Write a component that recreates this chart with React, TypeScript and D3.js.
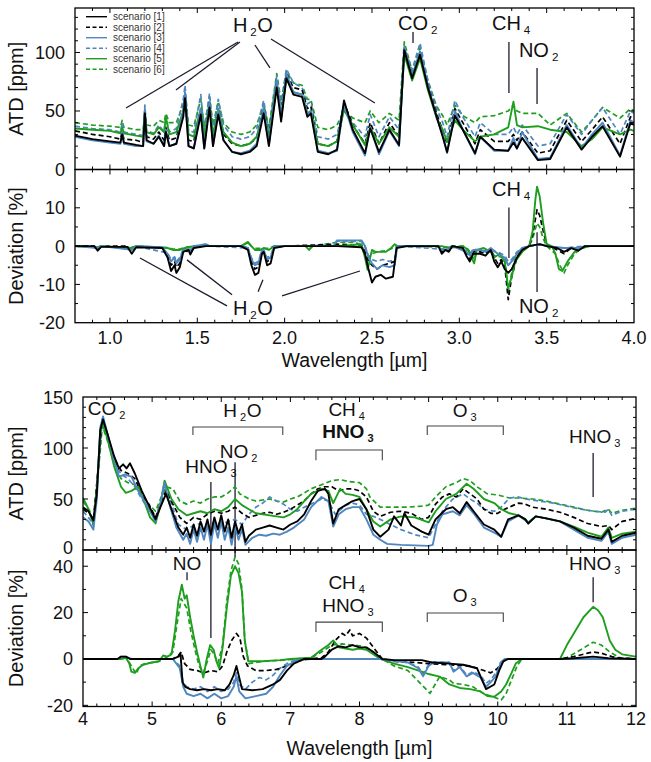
import React from "react";
import * as d3 from "d3";

type Pt = [number, number];

const scenarioLabels = ["scenario [1]", "scenario [2]", "scenario [3]", "scenario [4]", "scenario [5]", "scenario [6]"];

// ---------- Top figure: ATD (ppm) on a shared wavelength grid ----------
const topWavelengths = [
  0.80, 0.90, 1.00, 1.06, 1.07, 1.08, 1.15, 1.19, 1.20, 1.21,
  1.25, 1.28, 1.31, 1.32, 1.34, 1.38, 1.42, 1.43, 1.45, 1.48,
  1.52, 1.54, 1.57, 1.59, 1.62, 1.65, 1.70, 1.75, 1.80, 1.84,
  1.88, 1.91, 1.955, 1.98, 2.01, 2.05, 2.10, 2.13, 2.15, 2.19,
  2.25, 2.30, 2.34, 2.39, 2.46, 2.49, 2.54, 2.60, 2.655, 2.685,
  2.73, 2.775, 2.82, 2.87, 2.905, 2.93, 2.975, 3.02, 3.09, 3.12,
  3.20, 3.28, 3.31, 3.33, 3.36, 3.45, 3.52, 3.615, 3.70, 3.76,
  3.82, 3.92, 3.98, 4.00,
];
const topAtdS1 = [
  29, 26, 24, 23, 30, 23, 21, 20, 48, 25,
  22, 28, 20, 32, 20, 22, 45, 61, 20, 18,
  47, 18, 53, 20, 47, 25, 15, 13, 15, 20,
  48, 20, 70, 41, 78, 64, 62, 45, 48, 15,
  13, 17, 59, 34, 14, 35, 15, 34, 21, 102,
  78, 98, 70, 45, 28, 15, 46, 34, 14, 28,
  17, 16, 23, 18, 27, 8, 9, 36, 17, 28,
  37, 11, 40, 38,
];
const topAtdS2 = [
  33, 30, 28, 26, 32, 26, 25, 23, 50, 28,
  26, 32, 25, 36, 25, 27, 50, 65, 25, 24,
  52, 24, 57, 25, 52, 30, 22, 20, 22, 27,
  53, 27, 75, 48, 82, 70, 68, 52, 54, 22,
  20, 24, 57, 38, 22, 40, 22, 40, 28, 103,
  80, 99, 72, 48, 33, 22, 52, 40, 22, 34,
  24, 24, 30, 25, 32, 14, 16, 42, 24, 34,
  45, 22, 45, 44,
];
const topAtdS3 = [
  28, 25, 23, 22, 32, 22, 20, 20, 52, 24,
  22, 29, 20, 34, 20, 22, 50, 66, 20, 18,
  52, 18, 58, 20, 52, 25, 15, 14, 16, 22,
  53, 21, 76, 44, 82, 66, 64, 47, 50, 16,
  14, 16, 56, 32, 12, 36, 13, 33, 20, 104,
  80, 101, 72, 45, 29, 14, 50, 34, 13, 28,
  16, 16, 27, 18, 32, 9, 10, 38, 18, 30,
  40, 12, 42, 40,
];
const topAtdS4 = [
  37, 35, 34, 32, 40, 32, 30, 29, 55, 33,
  31, 38, 32, 44, 32, 35, 60, 72, 33, 32,
  64, 32, 65, 33, 60, 38, 28, 26, 28, 35,
  59, 33, 80, 55, 86, 74, 70, 56, 58, 28,
  26, 30, 55, 40, 28, 47, 28, 45, 34, 105,
  85, 108, 76, 52, 40, 28, 59, 45, 28, 40,
  30, 30, 36, 30, 38, 20, 22, 47, 30, 42,
  53, 30, 50, 48,
];
const topAtdS5 = [
  35, 34, 33, 31, 36, 31, 29, 28, 45, 32,
  30, 36, 32, 45, 30, 32, 50, 60, 30, 28,
  52, 28, 56, 30, 52, 32, 23, 20, 22, 28,
  50, 26, 72, 45, 78, 66, 64, 48, 50, 22,
  20, 24, 51, 38, 21, 36, 22, 36, 28, 98,
  76, 95, 68, 44, 34, 24, 42, 34, 24, 28,
  30, 36, 58, 38, 36, 37, 34, 32, 20, 26,
  36, 30, 34, 33,
];
const topAtdS6 = [
  40, 38, 37, 36, 42, 36, 34, 34, 50, 38,
  37, 42, 40, 48, 40, 40, 56, 66, 38, 37,
  60, 37, 62, 38, 58, 40, 32, 30, 32, 38,
  56, 36, 82, 58, 84, 74, 72, 60, 60, 36,
  34, 38, 50, 44, 40, 50, 40, 48, 42, 109,
  84, 104, 76, 54, 46, 38, 55, 46, 40, 45,
  46, 50, 55, 50, 48, 48, 38, 48, 32, 42,
  53, 44, 52, 50,
];

// ---------- Top figure: deviation (%) ----------
const topDevS1: Pt[] = [[0.8,0],[0.91,0],[0.93,-1.2],[0.95,-0.2],[1.10,-0.2],[1.125,-2],[1.15,-0.3],[1.30,-0.5],[1.33,-3],[1.35,-6.5],[1.37,-5],[1.38,-7],[1.40,-5.5],[1.42,-1.5],[1.45,-1],[1.46,-2.2],[1.48,-0.5],[1.55,0],[1.75,0],[1.79,-1],[1.81,-5],[1.83,-7.5],[1.85,-7],[1.87,-2],[1.88,-1.5],[1.90,-5],[1.92,-4.5],[1.94,-0.5],[2.0,0],[2.30,0],[2.44,-0.3],[2.46,-2],[2.48,-6],[2.50,-9.5],[2.52,-8],[2.55,-7.5],[2.58,-8.5],[2.62,-8],[2.64,-0.5],[2.70,0],[2.88,0],[2.90,-2],[2.92,-1],[2.94,-1.5],[2.96,0],[3.02,-0.5],[3.04,-2.5],[3.06,-4],[3.08,-2],[3.12,-2],[3.15,-2.5],[3.18,-1],[3.20,-4],[3.22,-5.5],[3.24,-4],[3.26,-6],[3.28,-7],[3.30,-6],[3.33,-3],[3.36,-1],[3.40,0],[3.46,0.5],[3.50,0],[3.56,-0.5],[3.60,-1.5],[3.64,-0.5],[3.68,-1.2],[3.72,0],[4.0,0]];
const topDevS2: Pt[] = [[0.8,0],[0.91,0],[0.93,-0.8],[0.95,0],[1.10,0],[1.125,-1.5],[1.15,-0.2],[1.30,-0.3],[1.33,-2.5],[1.35,-5],[1.37,-4],[1.38,-5.5],[1.40,-4.5],[1.42,-1.2],[1.46,-1.5],[1.48,-0.3],[1.55,0],[1.75,0],[1.79,-0.5],[1.81,-4],[1.83,-6],[1.85,-5.5],[1.87,-1.5],[1.88,-1.2],[1.90,-4],[1.92,-3.5],[1.94,-0.3],[2.0,0],[2.30,0.5],[2.44,0.3],[2.46,-1.5],[2.48,-4],[2.50,-5],[2.53,-6],[2.56,-5],[2.60,-4.5],[2.63,-4],[2.645,0],[2.70,0],[2.88,0],[2.90,-1.5],[2.92,-0.8],[2.94,-1.2],[2.96,0],[3.02,-0.3],[3.04,-2],[3.06,-3.5],[3.08,-1.5],[3.12,-1.5],[3.15,-2],[3.18,-1],[3.20,-3],[3.22,-4.5],[3.24,-3.5],[3.26,-5],[3.28,-14],[3.30,-8],[3.33,-3],[3.36,-1],[3.40,0],[3.42,3],[3.445,9.5],[3.46,8],[3.48,4],[3.50,0.5],[3.56,-1],[3.60,-2],[3.64,-0.5],[3.68,-1],[3.72,0],[4.0,0]];
const topDevS3: Pt[] = [[0.8,0],[0.93,-0.5],[0.95,0],[1.125,-1],[1.15,0],[1.30,-0.3],[1.33,-2],[1.35,-4],[1.37,-3],[1.38,-4.5],[1.40,-3.5],[1.42,-1],[1.46,-1],[1.48,0],[1.55,0.5],[1.57,0],[1.75,0],[1.79,-0.5],[1.81,-3.5],[1.83,-5],[1.85,-4.5],[1.87,-1.2],[1.88,-1],[1.90,-3.5],[1.92,-3],[1.94,0],[2.28,0],[2.30,1.5],[2.44,1.5],[2.46,0],[2.48,-3],[2.50,-4.5],[2.53,-6],[2.56,-5],[2.60,-5.5],[2.63,-5],[2.645,0],[2.88,0],[2.90,-1],[2.94,-0.8],[2.96,0],[3.04,-1.5],[3.06,-2.5],[3.08,-1],[3.12,-1],[3.15,-1.5],[3.18,-0.5],[3.22,-2],[3.26,-3],[3.28,-5],[3.30,-4],[3.33,-2],[3.36,-0.5],[3.40,0],[3.46,0.5],[3.50,0],[3.60,-0.5],[3.68,-0.5],[3.72,0],[4.0,0]];
const topDevS4: Pt[] = [[0.8,0],[0.93,-0.4],[0.95,0],[1.125,-0.8],[1.15,0],[1.33,-1.8],[1.35,-3.5],[1.37,-2.8],[1.38,-4],[1.40,-3],[1.42,-0.8],[1.46,-0.8],[1.48,0],[1.55,0.5],[1.57,0],[1.79,-0.5],[1.81,-3],[1.83,-4.5],[1.85,-4],[1.87,-1],[1.90,-3],[1.92,-2.5],[1.94,0],[2.28,0],[2.30,1.3],[2.44,1.2],[2.46,0],[2.48,-2.5],[2.50,-3.5],[2.53,-4],[2.56,-3.5],[2.60,-4],[2.63,-3.5],[2.645,0],[2.90,-0.8],[2.96,0],[3.04,-1.2],[3.06,-2],[3.08,-0.8],[3.15,-1.2],[3.22,-1.5],[3.26,-2.5],[3.28,-4],[3.30,-3.5],[3.33,-1.5],[3.36,-0.5],[3.40,0],[3.46,0.3],[3.50,0],[3.60,-0.5],[3.72,0],[4.0,0]];
const topDevS5: Pt[] = [[0.8,0],[0.93,-0.3],[0.95,0],[1.12,-0.5],[1.15,0],[1.33,-0.5],[1.36,-1],[1.40,-1],[1.43,-0.5],[1.48,0],[1.75,0],[1.79,1.1],[1.81,0],[1.83,-1],[1.86,-1],[1.88,-0.5],[1.91,-1],[1.94,0],[2.12,0],[2.14,-1],[2.16,0],[2.30,0],[2.44,0.5],[2.46,-3],[2.475,-6.2],[2.49,-3],[2.50,-1],[2.52,-1.5],[2.58,-1.5],[2.61,-0.5],[2.63,0.5],[2.645,0],[2.90,0],[2.94,-0.5],[3.02,0],[3.05,-1],[3.085,-4.5],[3.10,-1],[3.14,-0.5],[3.18,-1.5],[3.20,-3],[3.23,-2],[3.26,-4],[3.28,-11],[3.30,-8],[3.32,-4],[3.36,-1.5],[3.40,0],[3.42,4],[3.435,12],[3.445,15.5],[3.46,13],[3.48,6],[3.50,0.5],[3.53,0],[3.55,-2],[3.57,-6],[3.59,-6.5],[3.62,-4],[3.66,-1.5],[3.70,-0.5],[3.75,0],[4.0,0]];
const topDevS6: Pt[] = [[0.8,0],[0.93,-0.3],[0.95,0],[1.125,-0.4],[1.15,0],[1.33,-0.4],[1.36,-0.8],[1.40,-0.8],[1.43,-0.3],[1.48,0],[1.75,0],[1.79,0.8],[1.81,0],[1.83,-0.6],[1.86,-0.6],[1.91,-0.6],[1.94,0],[2.12,0],[2.14,-0.8],[2.16,0],[2.30,1],[2.40,1],[2.44,0.3],[2.46,-2.5],[2.475,-5],[2.49,-2.5],[2.50,-2],[2.53,-1.5],[2.58,-1.2],[2.62,-0.5],[2.645,0],[2.94,-0.3],[3.02,0],[3.05,-0.8],[3.085,-3.5],[3.10,-1],[3.18,-1.2],[3.20,-2.5],[3.26,-3],[3.28,-12],[3.30,-7],[3.32,-3],[3.36,-1],[3.40,0],[3.42,2],[3.445,6],[3.46,5],[3.48,2],[3.50,0],[3.55,-2],[3.575,-5],[3.60,-7],[3.62,-5],[3.66,-2],[3.70,-0.5],[3.75,0],[4.0,0]];

// ---------- Bottom figure: ATD (ppm) ----------
const botAtdS1: Pt[] = [[4.0,42],[4.08,38],[4.15,29],[4.2,55],[4.25,118],[4.29,128],[4.35,115],[4.45,92],[4.52,80],[4.58,84],[4.63,80],[4.68,85],[4.75,75],[4.85,58],[4.95,44],[5.05,30],[5.12,42],[5.2,55],[5.28,40],[5.38,22],[5.45,15],[5.5,22],[5.55,12],[5.6,25],[5.65,14],[5.7,28],[5.75,18],[5.8,30],[5.85,15],[5.9,32],[5.95,20],[6.0,34],[6.05,18],[6.1,30],[6.15,12],[6.2,28],[6.25,16],[6.3,25],[6.35,8],[6.4,14],[6.5,20],[6.6,22],[6.7,24],[6.8,22],[6.9,20],[7.0,25],[7.1,28],[7.2,35],[7.3,48],[7.4,58],[7.5,60],[7.55,55],[7.62,26],[7.7,40],[7.8,44],[7.9,48],[8.0,50],[8.1,40],[8.2,20],[8.3,13],[8.42,20],[8.5,33],[8.6,24],[8.65,36],[8.75,24],[8.9,18],[9.0,15],[9.1,30],[9.25,40],[9.35,42],[9.45,36],[9.55,47],[9.65,38],[9.8,25],[9.95,20],[10.05,13],[10.15,30],[10.3,34],[10.4,30],[10.44,26],[10.55,33],[10.7,31],[10.9,28],[11.1,22],[11.3,14],[11.5,11],[11.6,20],[11.65,8],[11.8,14],[12.0,17]];
const botAtdS2: Pt[] = [[4.0,40],[4.1,35],[4.15,30],[4.22,80],[4.27,125],[4.35,112],[4.45,90],[4.55,78],[4.65,75],[4.75,70],[4.85,55],[4.95,45],[5.05,32],[5.12,45],[5.2,58],[5.3,45],[5.4,32],[5.5,26],[5.6,32],[5.7,30],[5.8,35],[5.9,38],[6.0,36],[6.1,38],[6.2,42],[6.3,36],[6.4,32],[6.5,34],[6.6,36],[6.7,37],[6.8,35],[6.9,37],[7.0,40],[7.1,44],[7.2,48],[7.3,55],[7.4,60],[7.5,62],[7.6,62],[7.7,58],[7.8,60],[7.9,60],[8.0,58],[8.1,52],[8.2,38],[8.3,33],[8.45,37],[8.6,38],[8.75,36],[8.9,30],[9.0,32],[9.1,45],[9.2,52],[9.3,55],[9.4,52],[9.5,60],[9.6,55],[9.7,50],[9.8,40],[9.9,36],[10.0,36],[10.1,40],[10.2,43],[10.3,46],[10.4,45],[10.5,42],[10.7,40],[10.9,37],[11.1,32],[11.3,26],[11.5,23],[11.6,24],[11.65,20],[11.8,28],[12.0,31]];
const botAtdS3: Pt[] = [[4.0,32],[4.08,28],[4.15,20],[4.2,50],[4.25,120],[4.29,131],[4.35,115],[4.45,88],[4.52,72],[4.6,74],[4.7,72],[4.8,58],[4.9,46],[4.97,38],[5.05,28],[5.12,45],[5.18,66],[5.25,45],[5.35,22],[5.45,10],[5.5,16],[5.55,6],[5.6,20],[5.65,8],[5.7,22],[5.75,10],[5.8,25],[5.85,6],[5.9,26],[5.95,12],[6.0,28],[6.05,10],[6.1,22],[6.15,5],[6.2,24],[6.25,10],[6.3,20],[6.35,5],[6.45,12],[6.55,15],[6.65,14],[6.75,16],[6.85,15],[6.95,18],[7.05,22],[7.2,30],[7.3,42],[7.45,52],[7.55,48],[7.62,23],[7.7,35],[7.8,40],[7.9,42],[8.0,42],[8.1,30],[8.2,15],[8.3,10],[8.4,6],[8.6,5],[8.8,4.5],[9.0,4],[9.06,5],[9.12,25],[9.2,35],[9.35,38],[9.45,34],[9.55,44],[9.65,36],[9.8,22],[9.95,17],[10.05,13],[10.15,28],[10.3,34],[10.4,29],[10.44,26],[10.55,33],[10.7,31],[10.9,28],[11.1,20],[11.3,12],[11.5,9],[11.6,18],[11.65,6],[11.8,12],[12.0,15]];
const botAtdS4: Pt[] = [[4.0,38],[4.1,30],[4.15,24],[4.22,80],[4.28,128],[4.35,112],[4.45,88],[4.55,74],[4.65,70],[4.75,62],[4.85,50],[4.95,40],[5.05,30],[5.12,46],[5.18,66],[5.28,45],[5.38,25],[5.5,20],[5.6,24],[5.7,26],[5.8,22],[5.9,28],[6.0,25],[6.1,28],[6.2,30],[6.3,25],[6.4,35],[6.5,42],[6.6,46],[6.7,52],[6.8,48],[6.9,45],[7.0,40],[7.1,38],[7.2,42],[7.3,45],[7.45,50],[7.55,48],[7.65,35],[7.8,44],[7.9,46],[8.0,44],[8.1,35],[8.2,33],[8.3,30],[8.45,25],[8.6,20],[8.8,15],[9.0,12],[9.1,25],[9.2,38],[9.35,50],[9.5,55],[9.6,50],[9.7,46],[9.8,40],[9.95,38],[10.05,42],[10.17,51],[10.3,52],[10.4,50],[10.6,48],[10.8,46],[11.0,43],[11.2,40],[11.4,38],[11.55,37],[11.6,40],[11.65,34],[11.8,38],[12.0,40]];
const botAtdS5: Pt[] = [[4.0,51],[4.08,40],[4.15,25],[4.2,60],[4.25,115],[4.28,124],[4.35,110],[4.45,82],[4.55,62],[4.62,56],[4.7,58],[4.8,62],[4.9,45],[4.97,32],[5.05,26],[5.12,45],[5.18,68],[5.28,50],[5.38,40],[5.5,34],[5.6,36],[5.7,38],[5.8,36],[5.9,40],[6.0,38],[6.1,42],[6.2,50],[6.3,44],[6.4,40],[6.5,36],[6.6,35],[6.7,34],[6.8,33],[6.9,32],[7.0,35],[7.1,40],[7.2,48],[7.3,55],[7.45,60],[7.55,58],[7.62,46],[7.72,60],[7.8,55],[7.9,54],[8.0,52],[8.1,40],[8.2,28],[8.3,23],[8.45,30],[8.6,33],[8.8,32],[9.0,27],[9.1,38],[9.25,50],[9.4,55],[9.55,65],[9.65,60],[9.8,50],[9.95,46],[10.05,40],[10.17,36],[10.3,34],[10.4,30],[10.44,27],[10.55,33],[10.7,31],[10.9,28],[11.1,23],[11.3,17],[11.5,13],[11.6,22],[11.65,12],[11.8,16],[12.0,18]];
const botAtdS6: Pt[] = [[4.0,48],[4.1,38],[4.15,26],[4.22,75],[4.28,122],[4.35,108],[4.45,85],[4.55,70],[4.65,66],[4.75,64],[4.85,52],[4.95,45],[5.05,38],[5.12,50],[5.2,62],[5.3,60],[5.4,48],[5.5,45],[5.6,48],[5.7,46],[5.8,50],[5.9,52],[6.0,52],[6.1,56],[6.2,62],[6.27,55],[6.4,50],[6.5,48],[6.6,49],[6.7,50],[6.8,48],[6.9,47],[7.0,50],[7.1,52],[7.2,56],[7.3,60],[7.45,64],[7.6,68],[7.72,69],[7.85,67],[8.0,66],[8.1,60],[8.15,52],[8.3,42],[8.5,42],[8.7,42],[8.9,43],[9.0,44],[9.1,52],[9.25,62],[9.4,66],[9.5,70],[9.6,68],[9.7,62],[9.85,55],[10.0,54],[10.17,51],[10.3,51],[10.5,50],[10.7,48],[10.9,45],[11.1,42],[11.3,39],[11.5,37],[11.6,40],[11.65,36],[11.8,39],[12.0,41]];

// ---------- Bottom figure: deviation (%) ----------
const botDevS1: Pt[] = [[4.0,0],[4.5,0],[4.55,1],[4.62,1],[4.68,0],[5.3,0],[5.38,1],[5.41,2.5],[5.44,-10],[5.48,-12],[5.55,-13],[5.65,-13.5],[5.75,-13],[5.85,-13.5],[5.95,-13],[6.05,-13.5],[6.12,-11],[6.18,-7],[6.22,-3],[6.26,-8],[6.3,-13],[6.45,-13.5],[6.6,-13],[6.75,-11],[6.85,-9],[6.95,-5],[7.05,-2],[7.2,0],[7.45,0],[7.5,1],[7.6,4],[7.7,5.5],[7.8,5],[7.9,6],[8.0,5],[8.1,5],[8.2,3],[8.33,0],[8.5,-0.5],[8.9,-0.5],[9.05,-1.5],[9.3,-2],[9.5,-2.5],[9.7,-4],[9.83,-13],[9.95,-11],[10.02,-5],[10.08,-1],[10.15,0],[10.9,0],[11.1,0.3],[11.38,1],[11.6,0.3],[12.0,0]];
const botDevS2: Pt[] = [[4.0,0],[4.5,0],[4.6,0.5],[4.7,0],[5.3,0],[5.38,1.5],[5.42,3],[5.47,-2],[5.55,-4.5],[5.65,-5],[5.75,-6],[5.85,-5],[5.95,-5.5],[6.02,-3],[6.08,3],[6.15,8],[6.22,11],[6.27,9],[6.32,1],[6.38,-3],[6.5,-5],[6.65,-5],[6.8,-4.5],[6.95,-3],[7.1,-1],[7.25,0],[7.45,0.5],[7.55,3],[7.65,8],[7.75,11],[7.8,10],[7.86,12.5],[7.9,10],[8.0,11],[8.1,9],[8.2,5],[8.33,0],[8.5,-1],[8.8,-1.5],[9.0,-2],[9.3,-2.5],[9.6,-3],[9.8,-5],[9.9,-6],[10.0,-4],[10.08,-1],[10.15,0],[10.9,0],[11.1,1],[11.3,2.5],[11.38,3],[11.5,2.5],[11.65,1],[11.8,0.3],[12.0,0]];
const botDevS3: Pt[] = [[4.0,0],[4.5,0],[4.55,1],[4.62,1],[4.7,0],[5.3,0],[5.4,-4],[5.45,-12],[5.5,-15],[5.6,-16],[5.7,-15],[5.8,-17],[5.9,-15],[6.0,-17],[6.1,-16],[6.18,-12],[6.22,-7.5],[6.26,-14],[6.35,-17],[6.5,-16],[6.65,-15],[6.75,-12],[6.85,-7],[6.95,-3],[7.1,-0.5],[7.3,0],[8.3,0],[8.5,-0.8],[8.7,-1.5],[8.85,-4],[8.92,-7.5],[9.0,-3],[9.07,-1.5],[9.3,-1.5],[9.36,-5.5],[9.45,-3.5],[9.55,-7.5],[9.64,-6],[9.75,-8],[9.83,-12],[9.9,-10],[9.97,-7.5],[10.04,-2],[10.1,0],[12.0,0]];
const botDevS4: Pt[] = [[4.0,0],[4.5,0],[4.6,0.8],[4.7,0],[5.3,0],[5.4,-3],[5.45,-10],[5.5,-12],[5.6,-13],[5.7,-12],[5.8,-14],[5.9,-12],[6.0,-14],[6.1,-13],[6.18,-10],[6.22,-6],[6.26,-11],[6.35,-13],[6.45,-10],[6.55,-8],[6.65,-9],[6.75,-7],[6.85,-4],[6.95,-2],[7.1,0],[8.3,0],[8.5,-0.8],[8.7,-1.5],[8.85,-3.5],[8.92,-6.5],[9.0,-2.5],[9.07,-1.2],[9.3,-1.5],[9.36,-5],[9.45,-3],[9.55,-7],[9.64,-5.5],[9.75,-7],[9.83,-10.5],[9.9,-9],[9.97,-6],[10.04,-1.5],[10.1,0],[12.0,0]];
const botDevS5: Pt[] = [[4.0,0],[4.55,0],[4.62,0.5],[4.67,-2],[4.7,-5.5],[4.75,-6],[4.8,-4],[4.87,-2.5],[5.0,-1.5],[5.1,-1],[5.16,1.5],[5.22,1],[5.28,2],[5.33,12],[5.38,25],[5.43,32],[5.47,26],[5.5,27.5],[5.55,18],[5.6,10],[5.65,3],[5.69,-2],[5.74,-8],[5.79,0],[5.84,6],[5.89,4],[5.93,-1],[5.97,-4],[6.02,5],[6.08,22],[6.14,36],[6.2,40],[6.25,37],[6.3,29],[6.34,8],[6.39,-1],[6.6,-1],[6.85,-0.5],[7.0,0],[7.3,0.5],[7.45,4],[7.55,6],[7.62,8],[7.7,5],[7.8,4.5],[7.9,4],[8.0,4.5],[8.1,4],[8.2,2],[8.3,0],[8.5,-2],[8.7,-3.5],[8.9,-5.5],[9.0,-6.5],[9.16,-7.6],[9.3,-11],[9.45,-12.5],[9.6,-13],[9.75,-14],[9.85,-16],[9.95,-16.3],[10.05,-14],[10.12,-11],[10.2,-6],[10.26,-2],[10.35,0],[10.9,0],[11.0,6],[11.1,11],[11.24,18],[11.38,22.5],[11.45,21],[11.52,18],[11.62,8],[11.7,4],[11.8,2],[12.0,1]];
const botDevS6: Pt[] = [[4.0,0],[4.55,0],[4.62,0.5],[4.67,-1.5],[4.72,-4],[4.77,-6.5],[4.82,-3],[4.9,-2],[5.1,-1],[5.2,0.5],[5.3,3],[5.36,15],[5.42,26],[5.46,24],[5.5,22],[5.56,12],[5.62,4],[5.68,-3],[5.74,-6],[5.8,-1],[5.85,4],[5.9,2],[5.95,-2],[6.02,6],[6.08,25],[6.14,38],[6.2,44],[6.25,41],[6.3,30],[6.34,8],[6.4,-2],[6.6,-1],[6.9,-0.5],[7.1,0],[7.3,0.5],[7.45,3],[7.6,6],[7.75,6.5],[7.9,6],[8.05,5.5],[8.2,3],[8.33,0],[8.5,-3],[8.7,-5],[8.88,-10.5],[9.02,-14.8],[9.16,-7.6],[9.3,-9],[9.36,-10.5],[9.5,-11],[9.64,-12],[9.8,-15],[9.93,-16.3],[10.05,-17.7],[10.12,-15],[10.2,-9],[10.28,-3],[10.35,0],[10.9,0],[11.0,0.5],[11.2,4],[11.38,7.2],[11.5,6],[11.62,3],[11.77,0.5],[12.0,0]];

// tick values
const topXTicks = [1.0, 1.5, 2.0, 2.5, 3.0, 3.5, 4.0];
const topAtdTicks = [0, 50, 100];
const topDevTicks = [-20, -10, 0, 10];
const botXTicks = [4, 5, 6, 7, 8, 9, 10, 11, 12];
const botAtdTicks = [0, 50, 100, 150];
const botDevTicks = [-20, 0, 20, 40];

const BLUE = "#4f86c0";
const GREEN = "#1e9e1e";
const STYLES = [
  { color: "#000", dash: undefined as string | undefined },
  { color: "#000", dash: "5,3" },
  { color: BLUE, dash: undefined },
  { color: BLUE, dash: "5,3" },
  { color: GREEN, dash: undefined },
  { color: GREEN, dash: "5,3" },
];
const DRAW_ORDER = [5, 3, 1, 4, 2, 0];
const FONT = "'Liberation Sans', Arial, Helvetica, sans-serif";
const ANN = "#1c1c2e";

function Chem({ x, y, text, size = 19, bold = false, anchor = "start" }: any) {
  const tokens: string[] = text.match(/_\d|[^_]+/g) || [];
  let prevSub = false;
  const spans = tokens.map((t, i) => {
    if (t.startsWith("_")) {
      prevSub = true;
      return (
        <tspan key={i} dx={3} dy={4} fontSize={size * 0.58}>
          {t.slice(1)}
        </tspan>
      );
    }
    const el = (
      <tspan key={i} dx={prevSub ? 0.5 : 0} dy={prevSub ? -4 : 0}>
        {t}
      </tspan>
    );
    prevSub = false;
    return el;
  });
  return (
    <text x={x} y={y} fontSize={size} fontFamily={FONT} fill="#111" fontWeight={bold ? "bold" : "normal"} textAnchor={anchor}>
      {spans}
    </text>
  );
}

function Frame({ x, y, xMajor, xMinorStep, yMajor, yMinorStep, id }: any) {
  const [xa, xb] = x.range();
  const [ya, yb] = y.range();
  const [dx0, dx1] = x.domain();
  const [dy0, dy1] = y.domain();
  const els: any[] = [];
  const xs = d3.range(Math.ceil(dx0 / xMinorStep - 1e-6) * xMinorStep, dx1 + 1e-6, xMinorStep);
  xs.forEach((v: number, i: number) => {
    const px = x(v);
    if (px <= xa + 0.5 || px >= xb - 0.5) return;
    const isMaj = xMajor.some((m: number) => Math.abs(m - v) < 1e-6);
    const L = isMaj ? 5 : 3;
    els.push(<line key={`xb${id}${i}`} x1={px} x2={px} y1={ya} y2={ya - L} />);
    els.push(<line key={`xt${id}${i}`} x1={px} x2={px} y1={yb} y2={yb + L} />);
  });
  const ys = d3.range(Math.ceil(dy0 / yMinorStep - 1e-6) * yMinorStep, dy1 + 1e-6, yMinorStep);
  ys.forEach((v: number, i: number) => {
    const py = y(v);
    if (py >= ya - 0.5 || py <= yb + 0.5) return;
    const isMaj = yMajor.some((m: number) => Math.abs(m - v) < 1e-6);
    const L = isMaj ? 5 : 3;
    els.push(<line key={`yl${id}${i}`} x1={xa} x2={xa + L} y1={py} y2={py} />);
    els.push(<line key={`yr${id}${i}`} x1={xb} x2={xb - L} y1={py} y2={py} />);
  });
  return (
    <g stroke="#000" strokeWidth={1}>
      {els}
      <rect x={xa} y={yb} width={xb - xa} height={ya - yb} fill="none" strokeWidth={1.3} />
    </g>
  );
}

function Series({ sets, x, y, clip }: any) {
  const line = d3
    .line<Pt>()
    .x((d) => x(d[0]))
    .y((d) => y(d[1]));
  return (
    <g clipPath={`url(#${clip})`} fill="none">
      {DRAW_ORDER.map((i) => (
        <path
          key={i}
          d={line(sets[i]) || ""}
          stroke={STYLES[i].color}
          strokeWidth={STYLES[i].dash ? 1.7 : 1.9}
          strokeDasharray={STYLES[i].dash}
          strokeLinejoin="round"
        />
      ))}
    </g>
  );
}

function YLabels({ y, ticks, xAxis, lift }: any) {
  return (
    <g fontFamily={FONT} fontSize={18} textAnchor="end" fill="#111">
      {ticks.map((t: number) => (
        <text key={t} x={xAxis - 10} y={y(t) + 6.5 - (lift && t === 0 ? lift : 0)}>
          {t}
        </text>
      ))}
    </g>
  );
}

export default function App() {
  const xT = d3.scaleLinear().domain([0.8, 4.0]).range([75, 634]);
  const yTA = d3.scaleLinear().domain([0, 138]).range([169.5, 8]);
  const yTD = d3.scaleLinear().domain([-20, 20]).range([322.7, 169.5]);
  const xB = d3.scaleLinear().domain([4, 12]).range([83, 636]);
  const yBA = d3.scaleLinear().domain([0, 150]).range([550, 397]);
  const yBD = d3.scaleLinear().domain([-20.5, 47]).range([706.5, 550]);

  const topAtdSets: Pt[][] = [topAtdS1, topAtdS2, topAtdS3, topAtdS4, topAtdS5, topAtdS6].map((arr) =>
    arr.map((v, i) => [topWavelengths[i], v] as Pt)
  );
  const topDevSets = [topDevS1, topDevS2, topDevS3, topDevS4, topDevS5, topDevS6];
  const botAtdSets = [botAtdS1, botAtdS2, botAtdS3, botAtdS4, botAtdS5, botAtdS6];
  const botDevSets = [botDevS1, botDevS2, botDevS3, botDevS4, botDevS5, botDevS6];

  const L = (x1: number, y1: number, x2: number, y2: number, k: string, w = 1.3, c = ANN) => (
    <line key={k} x1={x1} y1={y1} x2={x2} y2={y2} stroke={c} strokeWidth={w} />
  );
  const bracket = (x: any, y: any, a: number, b: number, v: number, v2: number, k: string) => (
    <path
      key={k}
      d={`M${x(a)},${y(v2)}V${y(v)}H${x(b)}V${y(v2)}`}
      fill="none"
      stroke="#444"
      strokeWidth={1.1}
    />
  );

  return (
    <svg width={651} height={762} style={{ position: "absolute", left: 0, top: 0, background: "#fff" }}>
      <defs>
        <clipPath id="cTA"><rect x={75} y={8} width={559} height={161.5} /></clipPath>
        <clipPath id="cTD"><rect x={75} y={169.5} width={559} height={153.2} /></clipPath>
        <clipPath id="cBA"><rect x={83} y={397} width={553} height={153} /></clipPath>
        <clipPath id="cBD"><rect x={83} y={550} width={553} height={156.5} /></clipPath>
      </defs>
      <rect width={651} height={762} fill="#fff" />

      {/* ===== top figure ===== */}
      <g>
        {L(xT(1.733), yTA(109), xT(1.092), yTA(52.6), "a1")}
        {L(xT(1.744), yTA(109), xT(1.378), yTA(68), "a2")}
        {L(xT(1.83), yTA(106.4), xT(1.916), yTA(86.8), "a3")}
        {L(xT(1.922), yTA(111.5), xT(2.517), yTA(56.8), "a4")}
        {L(xT(2.735), yTA(117.5), xT(2.735), yTA(108), "a5")}
        {L(xT(3.284), yTA(109), xT(3.284), yTA(65.4), "a6")}
        {L(xT(3.445), yTA(86.8), xT(3.445), yTA(56), "a7")}
        {L(xT(3.284), yTD(10.1), xT(3.284), yTD(-3.1), "b1")}
        {L(xT(3.445), yTD(3.6), xT(3.445), yTD(-12), "b2")}
        {L(xT(1.67), yTD(-15.6), xT(1.172), yTD(-3.1), "b3")}
        {L(xT(1.699), yTD(-12.7), xT(1.441), yTD(-3.6), "b4")}
        {L(xT(1.848), yTD(-11.9), xT(1.876), yTD(-8.8), "b5")}
        {L(xT(1.985), yTD(-13), xT(2.431), yTD(-6.5), "b6")}
      </g>
      <Series sets={topAtdSets} x={xT} y={yTA} clip="cTA" />
      <Series sets={topDevSets} x={xT} y={yTD} clip="cTD" />
      <Frame x={xT} y={yTA} xMajor={topXTicks} xMinorStep={0.1} yMajor={topAtdTicks} yMinorStep={10} id="ta" />
      <Frame x={xT} y={yTD} xMajor={topXTicks} xMinorStep={0.1} yMajor={topDevTicks} yMinorStep={5} id="td" />

      <Chem x={xT(1.704)} y={yTA(117.5)} text="H_2O" size={20} />
      <Chem x={xT(2.649)} y={yTA(119)} text="CO_2" size={20} />
      <Chem x={xT(3.187)} y={yTA(119)} text="CH_4" size={20} />
      <Chem x={xT(3.341)} y={yTA(96)} text="NO_2" size={20} />
      <Chem x={xT(3.187)} y={yTD(13.2)} text="CH_4" size={20} />
      <Chem x={xT(3.341)} y={yTD(-17.4)} text="NO_2" size={20} />
      <Chem x={xT(1.704)} y={yTD(-17.9)} text="H_2O" size={20} />

      {/* legend */}
      <g fontFamily={FONT} fontSize={10} fill="#333">
        {scenarioLabels.map((s, i) => (
          <g key={s} transform={`translate(0,${16.7 + i * 10.5})`}>
            <line x1={86} x2={107} y1={0} y2={0} stroke={STYLES[i].color} strokeWidth={1.4} strokeDasharray={STYLES[i].dash ? "4,2.5" : undefined} />
            <text x={113} y={3.5}>{s}</text>
          </g>
        ))}
      </g>

      <YLabels y={yTA} ticks={topAtdTicks} xAxis={75} />
      <YLabels y={yTD} ticks={topDevTicks} xAxis={75} />
      <g fontFamily={FONT} fontSize={18} textAnchor="middle" fill="#111">
        {topXTicks.map((t) => (
          <text key={t} x={xT(t)} y={344}>{t.toFixed(1)}</text>
        ))}
        <text x={(75 + 634) / 2} y={367} fontSize={19.5}>Wavelength [µm]</text>
        <text transform={`translate(23,${(8 + 169.5) / 2}) rotate(-90)`} fontSize={20}>ATD [ppm]</text>
        <text transform={`translate(23,${(169.5 + 322.7) / 2}) rotate(-90)`} fontSize={20}>Deviation [%]</text>
      </g>

      {/* ===== bottom figure ===== */}
      <g>
        {L(xB(6.2), yBA(86), xB(6.2), yBD(43.9), "c1")}
        {L(xB(5.85), yBA(66.7), xB(5.85), yBD(9), "c2")}
        {L(xB(11.38), yBA(95), xB(11.38), yBA(52), "c3")}
        {L(xB(5.505), yBD(37.4), xB(5.505), yBD(34), "c4")}
        {L(xB(11.38), yBD(35.3), xB(11.38), yBD(24.5), "c5")}
        {bracket(xB, yBA, 5.59, 6.89, 120.6, 112.7, "k1")}
        {bracket(xB, yBA, 7.37, 8.33, 98, 88, "k2")}
        {bracket(xB, yBA, 8.98, 10.08, 121.6, 112.7, "k3")}
        {bracket(xB, yBD, 7.37, 8.33, 15.9, 11.6, "k4")}
        {bracket(xB, yBD, 8.98, 10.08, 19.8, 15.9, "k5")}
      </g>
      <Series sets={botAtdSets} x={xB} y={yBA} clip="cBA" />
      <Series sets={botDevSets} x={xB} y={yBD} clip="cBD" />
      <Frame x={xB} y={yBA} xMajor={botXTicks} xMinorStep={0.2} yMajor={botAtdTicks} yMinorStep={10} id="ba" />
      <Frame x={xB} y={yBD} xMajor={botXTicks} xMinorStep={0.2} yMajor={botDevTicks} yMinorStep={10} id="bd" />

      <Chem x={xB(4.07)} y={yBA(132)} text="CO_2" />
      <Chem x={xB(6.03)} y={yBA(130)} text="H_2O" />
      <Chem x={xB(7.55)} y={yBA(131)} text="CH_4" />
      <Chem x={xB(7.46)} y={yBA(109.8)} text="HNO_3" bold />
      <Chem x={xB(9.35)} y={yBA(130)} text="O_3" />
      <Chem x={xB(11.03)} y={yBA(105)} text="HNO_3" />
      <Chem x={xB(5.98)} y={yBA(90)} text="NO_2" />
      <Chem x={xB(5.48)} y={yBA(75.5)} text="HNO_3" />
      <Chem x={xB(5.3)} y={yBD(38.3)} text="NO" />
      <Chem x={xB(7.55)} y={yBD(30.2)} text="CH_4" />
      <Chem x={xB(7.46)} y={yBD(20.2)} text="HNO_3" />
      <Chem x={xB(9.35)} y={yBD(24.5)} text="O_3" />
      <Chem x={xB(11.03)} y={yBD(38.3)} text="HNO_3" />

      <YLabels y={yBA} ticks={botAtdTicks} xAxis={83} lift={3} />
      <YLabels y={yBD} ticks={botDevTicks} xAxis={83} />
      <g fontFamily={FONT} fontSize={18} textAnchor="middle" fill="#111">
        {botXTicks.map((t) => (
          <text key={t} x={xB(t)} y={725}>{t}</text>
        ))}
        <text x={(83 + 636) / 2} y={755} fontSize={19.5}>Wavelength [µm]</text>
        <text transform={`translate(23,${(397 + 550) / 2}) rotate(-90)`} fontSize={20}>ATD [ppm]</text>
        <text transform={`translate(23,${(550 + 706.5) / 2}) rotate(-90)`} fontSize={20}>Deviation [%]</text>
      </g>
    </svg>
  );
}
